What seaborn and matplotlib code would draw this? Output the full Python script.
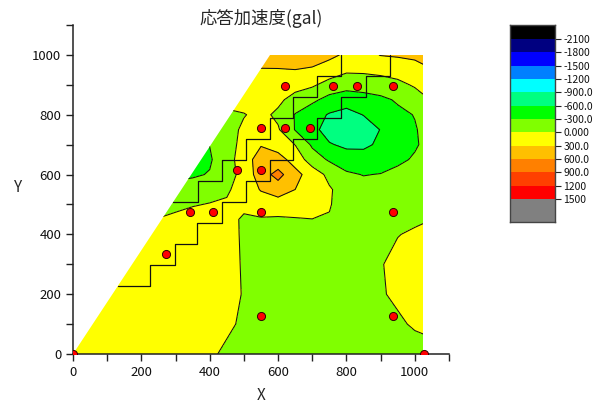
import numpy as np
import matplotlib
matplotlib.use("Agg")
import matplotlib.pyplot as plt
import seaborn as sns
from matplotlib.colors import ListedColormap, BoundaryNorm
from matplotlib.patches import Polygon

# ---------------- data ----------------
x_nodes = [0, 100, 200, 300, 350, 400, 450, 500, 550, 600, 650, 700, 750, 800, 850, 900, 950, 1000, 1030]
y_nodes = [0, 100, 200, 300, 400, 450, 500, 550, 600, 650, 700, 750, 800, 850, 900, 950, 1000]

row_y0 = [250, 250, 250, 250, 220, 70, -80, -200, -220, -230, -230, -230, -230, -230, -220, -220, -230, -240, -180]
row_y100 = [250, 250, 250, 250, 250, 228, 78, -72, -200, -220, -220, -220, -220, -220, -200, -200, -84, 66, 100]
row_y200 = [250, 250, 250, 250, 250, 250, 126, -24, -174, -220, -220, -220, -220, -220, -200, -51, 99, 200, 220]
row_y300 = [250, 250, 250, 250, 250, 250, 117, -33, -183, -220, -220, -220, -220, -220, -177, -27, 123, 230, 240]
row_y400 = [250, 250, 250, 200, 200, 240, 108, -42, -190, -180, -180, -160, -165, -220, -210, -90, -15, 60, 105]
row_y450 = [-100, -100, -40, 66, 120, 165, 105, -45, -27, -39, -24, -5, -20, -105, -220, -200, -144, -69, -30]
row_y500 = [-100, -100, -100, -72, -21, 15, 40, 74, 158, 163, 175, 140, 20, -140, -145, -165, -127, -97, -78]
row_y550 = [-150, -150, -150, -150, -186, -130, -45, 144, 318, 442, 300, 180, 30, -128, -197, -222, -192, -165, -150]
row_y600 = [-400, -400, -400, -400, -333, -285, -110, 90, 464, 700, 389, 168, -79, -257, -310, -290, -222, -213, -209]
row_y650 = [-400, -400, -400, -400, -400, -330, -125, 154, 445, 412, 187, -155, -335, -454, -490, -440, -358, -267, -225]
row_y700 = [-200, -200, -200, -200, -350, -295, -130, 97, 280, 172, -5, -344, -575, -660, -650, -555, -450, -332, -250]
row_y750 = [-150, -150, -150, -150, -150, -150, -120, 55, 120, 30, -315, -510, -730, -850, -760, -590, -443, -320, -240]
row_y800 = [-60, -60, -60, -60, -60, -60, -60, -15, 80, -60, -315, -480, -625, -710, -590, -469, -360, -290, -190]
row_y850 = [100, 100, 100, 100, 100, 100, 100, 120, 110, 66, -117, -240, -397, -455, -403, -357, -270, -157, -43]
row_y900 = [150, 150, 150, 150, 150, 150, 150, 150, 200, 157, 116, 44, -114, -198, -189, -148, -79, 36, 120]
row_y950 = [290, 290, 290, 290, 290, 290, 290, 290, 294, 288, 298, 276, 179, 54, 62, 92, 138, 197, 255]
row_y1000 = [350, 350, 350, 350, 350, 350, 350, 350, 350, 420, 420, 400, 360, 258, 210, 310, 330, 354, 400]

# measurement points
pt_x = [0, 272, 342, 411, 481, 551, 551, 551, 551, 621, 692, 621, 762, 832, 937, 937, 937, 1026]
pt_y = [0, 334, 474, 474, 614, 614, 474, 128, 755, 755, 755, 895, 895, 895, 895, 474, 128, 0]

# stepped lines
stair_a_x = [132, 224, 224, 298, 298, 363, 363, 436, 436, 507, 507, 576, 576, 644, 644, 714, 714, 785, 785, 856, 856, 927, 927]
stair_a_y = [227, 227, 298, 298, 368, 368, 439, 439, 509, 509, 580, 580, 649, 649, 719, 719, 788, 788, 858, 858, 930, 930, 1000]
stair_b_x = [293, 366, 366, 436, 436, 507, 507, 576, 576, 644, 644, 714, 714, 785, 785]
stair_b_y = [509, 509, 580, 580, 649, 649, 719, 719, 788, 788, 858, 858, 930, 930, 1000]

# model domain outline
domain_x = [0, 1025, 1025, 576]
domain_y = [0, 0, 1000, 1000]

levels = [-2100, -1800, -1500, -1200, -900, -600, -300, 0, 300, 600, 900, 1200, 1500]
band_colors = ["#000000", "#000080", "#0000FF", "#0080FF", "#00FFFF", "#00FF80", "#00FF00",
               "#80FF00", "#FFFF00", "#FFC000", "#FF8000", "#FF4000", "#FF0000", "#808080"]
cbar_labels = ["-2100", "-1800", "-1500", "-1200", "-900.0", "-600.0", "-300.0",
               "0.000", "300.0", "600.0", "900.0", "1200", "1500"]
cbar_edges = [-2415, -2100, -1800, -1500, -1200, -900, -600, -300, 0, 300, 600, 900, 1200, 1500, 2010]

title = "応答加速度(gal)"

# ---------------- plot ----------------
sns.set_style("ticks")
plt.rcParams["font.family"] = ["Noto Sans CJK JP", "DejaVu Sans"]

fig = plt.figure(figsize=(5.93, 4.09), dpi=100)
ax = fig.add_axes([73 / 593, 1 - 354 / 409, 376 / 593, 329 / 409])

Z = np.array([row_y0, row_y100, row_y200, row_y300, row_y400, row_y450, row_y500, row_y550,
              row_y600, row_y650, row_y700, row_y750, row_y800, row_y850, row_y900, row_y950,
              row_y1000], dtype=float)
X, Y = np.meshgrid(np.array(x_nodes, float), np.array(y_nodes, float))

cmap = ListedColormap(band_colors[1:-1])
cmap.set_under(band_colors[0])
cmap.set_over(band_colors[-1])
norm = BoundaryNorm(levels, cmap.N)

clip = Polygon(np.column_stack([domain_x, domain_y]), closed=True, transform=ax.transData,
               facecolor="none", edgecolor="none")
ax.add_patch(clip)

cf = ax.contourf(X, Y, Z, levels=levels, cmap=cmap, norm=norm, extend="both", zorder=1)
cf.set_clip_path(clip)
cl = ax.contour(X, Y, Z, levels=levels, colors="#111111", linewidths=0.75,
                linestyles="solid", negative_linestyles="solid", zorder=2)
cl.set_clip_path(clip)

ax.plot(stair_a_x, stair_a_y, color="#111111", lw=0.9, zorder=3)
ax.plot(stair_b_x, stair_b_y, color="#111111", lw=0.9, zorder=3)

sns.scatterplot(x=pt_x, y=pt_y, ax=ax, color="#FF0000", edgecolor="#300000", s=34,
                linewidth=0.7, zorder=5, legend=False)

ax.set_xlim(0, 1100)
ax.set_ylim(0, 1100)
ax.set_xticks([0, 200, 400, 600, 800, 1000])
ax.set_yticks([0, 200, 400, 600, 800, 1000])
ax.set_xticks(np.arange(100, 1101, 200), minor=True)
ax.set_yticks(np.arange(100, 1101, 200), minor=True)
ax.tick_params(which="both", direction="out", length=5, width=1, colors="#222222",
               labelsize=9.5, labelcolor="#111111")
for s in ["top", "right"]:
    ax.spines[s].set_visible(False)
for s in ["left", "bottom"]:
    ax.spines[s].set_linewidth(1.1)
    ax.spines[s].set_color("#222222")

ax.set_xlabel("X", fontsize=11)
ax.set_ylabel("Y", fontsize=11, rotation=0)
ax.xaxis.set_label_coords((261.5 - 73) / 376, (354 - 396) / 329)
ax.yaxis.set_label_coords((18 - 73) / 376, (354 - 188) / 329)
ax.xaxis.label.set_va("center")
ax.yaxis.label.set_va("center")
ax.yaxis.label.set_ha("center")

fig.text(261 / 593, 1 - 19 / 409, title, ha="center", va="center", fontsize=12.5)

# colour scale
cax = fig.add_axes([510 / 593, 1 - 221.7 / 409, 45 / 593, 196.7 / 409])
cax.pcolormesh([0, 1], cbar_edges, np.arange(len(band_colors)).reshape(-1, 1),
               cmap=ListedColormap(band_colors), vmin=-0.5, vmax=len(band_colors) - 0.5)
cax.set_ylim(cbar_edges[-1], cbar_edges[0])
cax.set_xlim(0, 1)
cax.set_xticks([])
cax.yaxis.tick_right()
cax.set_yticks(levels)
cax.set_yticklabels(cbar_labels)
cax.tick_params(axis="y", direction="out", length=4, width=0.8, labelsize=7.5, pad=2,
                colors="#222222", labelcolor="#111111")
for s in cax.spines.values():
    s.set_linewidth(1.0)
    s.set_color("#444444")

fig.savefig("out.png", dpi=100)
